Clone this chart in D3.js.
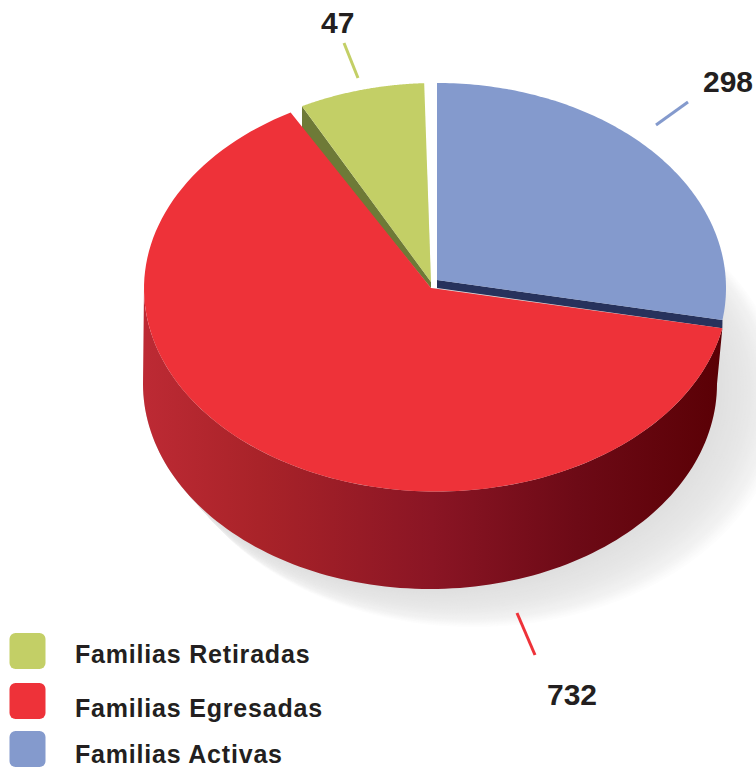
<!DOCTYPE html>
<html><head><meta charset="utf-8">
<script src="https://cdn.jsdelivr.net/npm/d3@7/dist/d3.min.js"></script>
<style>html,body{margin:0;padding:0;background:#fff;overflow:hidden}svg{display:block}</style>
</head><body><div id="chart"></div>
<script>
// ---- data ----
const categories = ["Familias Activas", "Familias Egresadas", "Familias Retiradas"];
const counts = [298, 732, 47];                 // printed values
const drawnShares = [27.5, 63.6, 7.0];         // slice sizes as actually drawn in the picture (%)
const legendOrder = ["Familias Retiradas", "Familias Egresadas", "Familias Activas"];

// ---- style / layout ----
const W = 756, H = 767;
const topColor = {"Familias Activas":"#849acd","Familias Egresadas":"#ee3239","Familias Retiradas":"#c3cf66"};
const faceColor = {"Familias Activas":"#27325c","Familias Retiradas":"#6e7a37"};
const geom = {
  "Familias Activas":   {cx:437, cy:288, rx:289, ry:205, ax:437, ay:280},
  "Familias Egresadas": {cx:436, cy:288.5, rx:292, ry:203, ax:431, ay:288},
  "Familias Retiradas": {cx:436, cy:288, rx:290, ry:205, ax:431, ay:282}
};
const floor = {cx:430, cy:384, rx:287, ry:205};
const labelPos = {
  "Familias Activas":   {x:703, y:92, line:[[656,125],[688,102]]},
  "Familias Egresadas": {x:547, y:705, line:[[517,613],[535,655]]},
  "Familias Retiradas": {x:321, y:33, line:[[344,43],[358,78]]}
};
const legendRows = [{sy:633, by:663},{sy:683, by:717},{sy:731, by:763}];

const svg = d3.select("#chart").append("svg").attr("width",W).attr("height",H)
  .style("font-family","'Liberation Sans',Arial,sans-serif");

// projection of an angle on an ellipse (0 = top, clockwise)
const pt = (g,a) => [g.cx + g.rx*Math.sin(a), g.cy - g.ry*Math.cos(a)];
const line = d3.line();
const sweep = (g,a0,a1) => d3.range(0,121).map(i => pt(g, a0+(a1-a0)*i/120));

const pad = 7/3*Math.PI/180;
const arcs = d3.pie().sort(null).padAngle(pad).startAngle(-pad/2).endAngle(2*Math.PI-pad/2)(drawnShares)
  .map(a => ({startAngle:a.startAngle+pad/2, endAngle:a.endAngle-pad/2}));
const arcOf = {}; categories.forEach((c,i)=>arcOf[c]=arcs[i]);

// ---- soft shadow ----
const N = 40;
const shadowT = d3.scaleLinear().domain([0,N]).range([1,0]);
const sCx = d3.scaleLinear().domain([0,1]).range([floor.cx,475]);
const sCy = d3.scaleLinear().domain([0,1]).range([floor.cy,400]);
const sRx = d3.scaleLinear().domain([0,1]).range([floor.rx,310]);
const sRy = d3.scaleLinear().domain([0,1]).range([floor.ry,228]);
const sCol = d3.scaleLinear().domain([0,.5,.8,1]).range(["#dfdfdf","#e8e8e8","#f2f2f2","#ffffff"]);
svg.append("g").selectAll("ellipse").data(d3.range(0,N+1)).join("ellipse")
  .attr("cx",i=>sCx(shadowT(i))).attr("cy",i=>sCy(shadowT(i)))
  .attr("rx",i=>sRx(shadowT(i))).attr("ry",i=>sRy(shadowT(i)))
  .attr("fill",i=>sCol(shadowT(i)));

// ---- wall gradient ----
const grad = svg.append("defs").append("linearGradient").attr("id","wall")
  .attr("gradientUnits","userSpaceOnUse").attr("x1",143).attr("x2",722).attr("y1",0).attr("y2",0);
[[0,"#bd2a34"],[.2,"#a92329"],[.5,"#8a1524"],[.75,"#6d0a16"],[1,"#5a0005"]]
  .forEach(([o,c])=>grad.append("stop").attr("offset",o).attr("stop-color",c));

const R = "Familias Egresadas", B = "Familias Activas", G = "Familias Retiradas";
const wallPath = [
  ...sweep(geom[R], arcOf[R].startAngle, 1.5*Math.PI),
  ...sweep(floor, 1.5*Math.PI, 0.5*Math.PI)
];
svg.append("path").attr("d",line(wallPath)+"Z").attr("fill","url(#wall)");

// ---- white gap between green and blue ----
svg.append("path").attr("fill","#fff")
  .attr("d",line([pt(geom[G],arcOf[G].endAngle),pt(geom[B],arcOf[B].startAngle),[geom[B].ax,geom[R].ay],[geom[G].ax,geom[R].ay]])+"Z");

// ---- cut faces ----
const bEnd = pt(geom[B], arcOf[B].endAngle), rStart = pt(geom[R], arcOf[R].startAngle);
svg.append("path").attr("fill",faceColor[B])
  .attr("d",line([[geom[B].ax,geom[B].ay],bEnd,rStart,[geom[B].ax,geom[R].ay]])+"Z");
const gStart = pt(geom[G], arcOf[G].startAngle);
svg.append("path").attr("fill",faceColor[G])
  .attr("d",line([[geom[G].ax,geom[G].ay],gStart,[gStart[0],gStart[1]+24],[geom[R].ax,geom[R].ay]])+"Z");

// ---- top faces ----
svg.append("g").selectAll("path").data([B,G,R]).join("path")
  .attr("fill",c=>topColor[c])
  .attr("d",c=>{
    const g=geom[c], a=arcOf[c];
    return line([[g.ax,g.ay],...sweep(g,a.startAngle,a.endAngle)])+"Z";
  });

// ---- leader lines + value labels ----
svg.append("g").selectAll("line").data(categories).join("line")
  .attr("x1",c=>labelPos[c].line[0][0]).attr("y1",c=>labelPos[c].line[0][1])
  .attr("x2",c=>labelPos[c].line[1][0]).attr("y2",c=>labelPos[c].line[1][1])
  .attr("stroke",c=>topColor[c]).attr("stroke-width",3);
svg.append("g").selectAll("text").data(categories).join("text")
  .attr("x",c=>labelPos[c].x).attr("y",c=>labelPos[c].y)
  .attr("font-size",30).attr("font-weight",700).attr("fill","#231f20")
  .text((c,i)=>counts[i]);

// ---- legend ----
const lg = svg.append("g").selectAll("g").data(legendOrder).join("g");
lg.append("rect").attr("x",9.5).attr("y",(c,i)=>legendRows[i].sy).attr("width",36).attr("height",36)
  .attr("rx",6).attr("fill",c=>topColor[c]);
lg.append("text").attr("x",75).attr("y",(c,i)=>legendRows[i].by)
  .attr("font-size",25).attr("font-weight",700).attr("letter-spacing",0.8).attr("fill","#231f20").text(c=>c);
</script></body></html>
